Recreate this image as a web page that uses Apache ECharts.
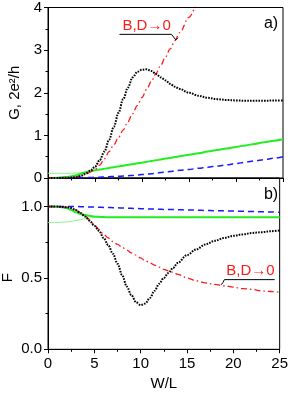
<!DOCTYPE html>
<html><head><meta charset="utf-8">
<script src="https://cdn.jsdelivr.net/npm/echarts@6/dist/echarts.min.js"></script>
<style>html,body{margin:0;padding:0;background:#fff}#c{width:291px;height:394px}</style>
</head><body><div id="c"></div>
<script>
// W/L sample positions
const W = [0,1,2,2.5,3,3.5,4,4.5,5,5.5,6,6.5,7,7.5,8,8.5,9,9.5,10,10.5,11,11.5,12,12.5,13,13.5,14,15,16,17,18,19,20,21,22,23,24,25];
// Panel a) conductance G (2e^2/h)
const gBlack = [0,0,0.005,0.01,0.02,0.05,0.1,0.17,0.26,0.42,0.62,0.9,1.2,1.53,1.85,2.12,2.36,2.49,2.54,2.55,2.51,2.44,2.36,2.29,2.21,2.14,2.09,2.0,1.93,1.88,1.85,1.83,1.82,1.81,1.81,1.81,1.82,1.82];
const gRed = [0,0,0.005,0.01,0.02,0.045,0.085,0.14,0.2,0.3,0.45,0.62,0.78,0.95,1.13,1.32,1.51,1.7,1.89,2.08,2.27,2.46,2.65,2.84,3.03,3.22,3.41,3.77,4.12,4.48,null,null,null,null,null,null,null,null];
const gGreen = [0,0.005,0.025,0.04,0.065,0.1,0.135,0.16,0.18,0.2,0.215,0.235,0.255,0.27,0.29,0.31,0.325,0.345,0.36,0.38,0.4,0.415,0.435,0.455,0.47,0.49,0.51,0.545,0.58,0.62,0.655,0.69,0.73,0.765,0.8,0.84,0.875,0.91];
const gLightGreen = [0.11,0.11,0.11,0.112,0.118,0.125,0.135,0.16,0.18,0.2,0.215,null,null,null,null,null,null,null,null,null,null,null,null,null,null,null,null,null,null,null,null,null,null,null,null,null,null,null];
const gBlue = [0,0,0,0,0.002,0.005,0.008,0.012,0.016,0.02,0.025,0.03,0.035,0.04,0.046,0.053,0.06,0.068,0.08,0.09,0.1,0.115,0.13,0.14,0.15,0.165,0.18,0.2,0.23,0.255,0.28,0.31,0.34,0.37,0.4,0.43,0.465,0.5];
// Panel b) Fano factor F
const fBlack = [1,1,0.995,0.99,0.975,0.955,0.93,0.9,0.865,0.83,0.78,0.73,0.67,0.6,0.52,0.44,0.38,0.33,0.31,0.32,0.36,0.41,0.46,0.5,0.535,0.57,0.605,0.66,0.7,0.735,0.76,0.78,0.795,0.805,0.815,0.82,0.827,0.832];
const fRed = [1,1,0.995,0.99,0.975,0.955,0.935,0.905,0.87,0.84,0.805,0.78,0.755,0.735,0.715,0.695,0.675,0.66,0.64,0.62,0.605,0.59,0.575,0.56,0.55,0.54,0.525,0.5,0.48,0.465,0.455,0.445,0.435,0.425,0.42,0.41,0.405,0.4];
const fGreen = [1,0.999,0.99,0.975,0.96,0.948,0.94,0.935,0.93,0.928,0.926,0.925,0.925,0.925,0.925,0.925,0.925,0.925,0.925,0.925,0.925,0.925,0.925,0.925,0.925,0.925,0.925,0.925,0.925,0.925,0.925,0.925,0.925,0.925,0.925,0.925,0.925,0.925];
const fLightGreen = [0.888,0.889,0.892,0.896,0.902,0.908,0.914,0.92,0.925,0.926,0.926,null,null,null,null,null,null,null,null,null,null,null,null,null,null,null,null,null,null,null,null,null,null,null,null,null,null,null];
const fBlue = [1,1,1,1,1,0.999,0.998,0.997,0.996,0.995,0.994,0.993,0.992,0.991,0.99,0.989,0.988,0.986,0.985,0.984,0.983,0.982,0.981,0.98,0.98,0.979,0.978,0.976,0.975,0.973,0.971,0.97,0.968,0.967,0.965,0.963,0.962,0.96];
const gTicks = [0,1,2,3,4];
const fTicks = [0,0.5,1.0];
const xTicks = [0,5,10,15,20,25];
const annotationText = 'B,D\u21920';

const pairs = arr => W.map((w,i)=>[w, arr[i]]);
const FONT = '"Liberation Sans", Arial, sans-serif';
const black = '#000';

const chart = echarts.init(document.getElementById('c'), null, {renderer:'canvas'});

function xAxisCfg(gi, showLabels){
  return {
    type:'value', gridIndex:gi, min:0, max:25, interval:5,
    axisLine:{show:true, onZero:false, lineStyle:{color:black,width:1}},
    axisTick:{show:true, inside:false, length:4, lineStyle:{color:black}},
    minorTick:{show:true, splitNumber:2, length:2.5, lineStyle:{color:black}},
    splitLine:{show:false},
    axisLabel:{show:showLabels, fontSize:15, color:black, fontFamily:FONT, margin:7,
      formatter: v => xTicks.includes(v) ? String(v) : ''},
    name: showLabels ? 'W/L' : '', nameLocation:'middle', nameGap:27,
    nameTextStyle:{fontSize:15, color:black, fontFamily:FONT}
  };
}
function yAxisCfg(gi, max, interval, ticks, fmt){
  return {
    type:'value', gridIndex:gi, min:0, max:max, interval:interval,
    axisLine:{show:true, onZero:false, lineStyle:{color:black,width:1}},
    axisTick:{show:true, inside:false, length:4, lineStyle:{color:black}},
    minorTick:{show:true, splitNumber:2, length:2.5, lineStyle:{color:black}},
    splitLine:{show:false},
    axisLabel:{fontSize:15, color:black, fontFamily:FONT, margin:6,
      formatter: v => ticks.some(t=>Math.abs(t-v)<1e-9) ? fmt(v) : ''}
  };
}
function line(gi, data, color, width, type, z){
  return {type:'line', xAxisIndex:gi, yAxisIndex:gi, data:pairs(data), showSymbol:false,
    symbol:'none', smooth:0.35, smoothMonotone:'x', clip:true, z:z, animation:false,
    lineStyle:{color:color, width:width, type:type, cap:'butt'}};
}

const option = {
  animation:false,
  grid:[
    {left:48, top:6, width:235, height:172, show:true, borderColor:black, borderWidth:1, backgroundColor:'transparent'},
    {left:48, top:178, width:235, height:171.3, show:true, borderColor:black, borderWidth:1, backgroundColor:'transparent'}
  ],
  xAxis:[xAxisCfg(0,false), xAxisCfg(1,true)],
  yAxis:[
    yAxisCfg(0,4,1,gTicks, v=>String(v)),
    yAxisCfg(1,1.2,0.5,fTicks, v=>v.toFixed(1))
  ],
  series:[
    line(0,gLightGreen,'#8cf08c',1,'solid',1),
    line(0,gGreen,'#22ee22',2,'solid',2),
    line(0,gBlue,'#1a1aff',1.5,[6,4],3),
    line(0,gRed,'#ff1a1a',1.3,[6,3,1.5,3],4),
    line(0,gBlack,'#000',2,[1.6,1.2],5),
    line(1,fLightGreen,'#8cf08c',1,'solid',1),
    line(1,fGreen,'#22ee22',2,'solid',2),
    line(1,fBlue,'#1a1aff',1.5,[6,4],3),
    line(1,fRed,'#ff1a1a',1.3,[6,3,1.5,3],4),
    line(1,fBlack,'#000',2,[1.6,1.2],5)
  ]
};
chart.setOption(option);

// annotations anchored in data coordinates
const P = (gi, pt) => chart.convertToPixel({gridIndex:gi}, pt);
const annA = {text:P(0,[7.92,3.56]), line:[P(0,[7.6,3.37]),P(0,[13.14,3.37]),P(0,[13.6,3.24]),P(0,[13.82,3.29])]};
const annB = {text:P(1,[19.24,0.546]), line:[P(1,[24.46,0.488]),P(1,[19.03,0.488]),P(1,[18.88,0.468]),P(1,[18.7,0.452])]};
const gA = P(0,[0,2]), fB = P(1,[0,0.6]);

chart.setOption({
  graphic:[
    {type:'text', x:15, y:gA[1], rotation:Math.PI/2, z:10,
      style:{text:'G, 2e\u00b2/h', fontSize:15, fontFamily:FONT, fill:black, textAlign:'center', textVerticalAlign:'middle'}},
    {type:'text', x:8, y:fB[1]+14, rotation:Math.PI/2, z:10,
      style:{text:'F', fontSize:15, fontFamily:FONT, fill:black, textAlign:'center', textVerticalAlign:'middle'}},
    {type:'text', x:271, y:24, z:10,
      style:{text:'a)', fontSize:16, fontFamily:FONT, fill:black, textAlign:'center', textVerticalAlign:'middle'}},
    {type:'text', x:271, y:195, z:10,
      style:{text:'b)', fontSize:16, fontFamily:FONT, fill:black, textAlign:'center', textVerticalAlign:'middle'}},
    {type:'text', x:annA.text[0], y:annA.text[1], z:10,
      style:{text:annotationText, fontSize:15, fontFamily:FONT, fill:'#ff1a1a', textAlign:'left', textVerticalAlign:'middle'}},
    {type:'polyline', z:10, shape:{points:annA.line}, style:{stroke:black, lineWidth:1, fill:null}},
    {type:'text', x:annB.text[0], y:annB.text[1], z:10,
      style:{text:annotationText, fontSize:15, fontFamily:FONT, fill:'#ff1a1a', textAlign:'left', textVerticalAlign:'middle'}},
    {type:'polyline', z:10, shape:{points:annB.line}, style:{stroke:black, lineWidth:1, fill:null}}
  ]
});
</script></body></html>
